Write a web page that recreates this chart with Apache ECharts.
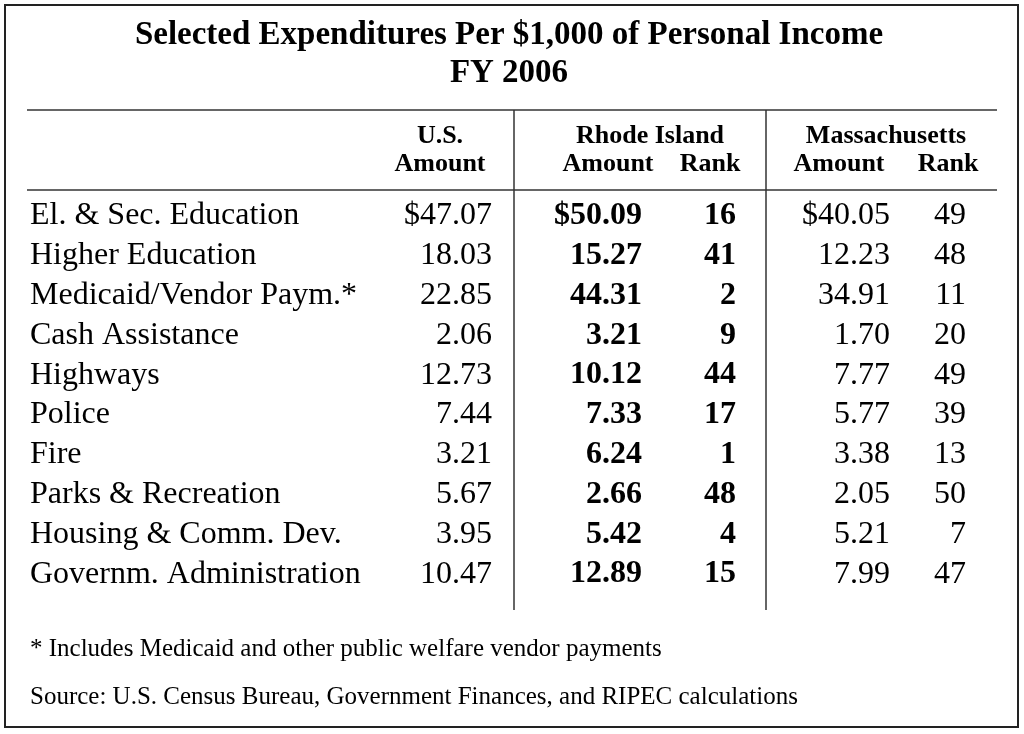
<!DOCTYPE html>
<html><head><meta charset="utf-8">
<script src="https://cdn.jsdelivr.net/npm/echarts@6/dist/echarts.min.js"></script>
<style>html,body{margin:0;padding:0;background:#fff}#main{width:1024px;height:734px}</style>
</head><body><div id="main"></div>
<script>
var chart = echarts.init(document.getElementById("main"));
var FONT = "Liberation Serif";

// rows: label, US amount, RI amount, RI rank, MA amount, MA rank
var rows = [
  ["El. & Sec. Education", "$47.07", "$50.09", 16, "$40.05", 49],
  ["Higher Education", "18.03", "15.27", 41, "12.23", 48],
  ["Medicaid/Vendor Paym.*", "22.85", "44.31", 2, "34.91", 11],
  ["Cash Assistance", "2.06", "3.21", 9, "1.70", 20],
  ["Highways", "12.73", "10.12", 44, "7.77", 49],
  ["Police", "7.44", "7.33", 17, "5.77", 39],
  ["Fire", "3.21", "6.24", 1, "3.38", 13],
  ["Parks & Recreation", "5.67", "2.66", 48, "2.05", 50],
  ["Housing & Comm. Dev.", "3.95", "5.42", 4, "5.21", 7],
  ["Governm. Administration", "10.47", "12.89", 15, "7.99", 47]
];

// column: x position, label side, bold
var columns = [
  { x: 30, pos: "right", bold: false },
  { x: 492, pos: "left", bold: false },
  { x: 642, pos: "left", bold: true },
  { x: 736, pos: "left", bold: true },
  { x: 890, pos: "left", bold: false },
  { x: 966, pos: "left", bold: false }
];

var series = columns.map(function (col, c) {
  return {
    type: "scatter",
    symbolSize: 0,
    silent: true,
    data: rows.map(function (r, i) { return { value: [col.x, i], txt: String(r[c]) }; }),
    label: {
      show: true,
      position: col.pos,
      distance: 0,
      formatter: function (p) { return p.data.txt; },
      fontFamily: FONT,
      fontSize: 32,
      fontWeight: col.bold ? "bold" : "normal",
      color: "#000",
      opacity: 1
    }
  };
});

function txt(x, y, s, size, align, bold) {
  return { type: "text", x: x, y: y, style: { text: s, fontFamily: FONT, fontSize: size,
    fontWeight: bold ? "bold" : "normal", fill: "#000", align: align, verticalAlign: "middle" } };
}
function line(x1, y1, x2, y2) {
  return { type: "line", shape: { x1: x1, y1: y1, x2: x2, y2: y2 }, style: { stroke: "#333", lineWidth: 1.5 } };
}

var option = {
  animation: false,
  grid: { left: 0, right: 0, top: 196, height: 398 },
  xAxis: { type: "value", min: 0, max: 1024, show: false },
  yAxis: { type: "category", inverse: true, show: false, data: rows.map(function (r) { return r[0]; }) },
  series: series,
  graphic: [
    { type: "rect", shape: { x: 5, y: 5, width: 1013, height: 722 }, style: { fill: "none", stroke: "#222", lineWidth: 2 } },
    txt(509, 35, "Selected Expenditures Per $1,000 of Personal Income", 33, "center", true),
    txt(509, 73, "FY 2006", 33, "center", true),
    line(27, 110, 997, 110),
    line(27, 190, 997, 190),
    line(514, 110, 514, 610),
    line(766, 110, 766, 610),
    txt(440, 136, "U.S.", 26, "center", true),
    txt(440, 164, "Amount", 26, "center", true),
    txt(650, 136, "Rhode Island", 26, "center", true),
    txt(608, 164, "Amount", 26, "center", true),
    txt(710, 164, "Rank", 26, "center", true),
    txt(886, 136, "Massachusetts", 26, "center", true),
    txt(839, 164, "Amount", 26, "center", true),
    txt(948, 164, "Rank", 26, "center", true),
    txt(30, 649, "* Includes Medicaid and other public welfare vendor payments", 25, "left", false),
    txt(30, 697, "Source: U.S. Census Bureau, Government Finances, and RIPEC calculations", 25, "left", false)
  ]
};
chart.setOption(option);
</script></body></html>
